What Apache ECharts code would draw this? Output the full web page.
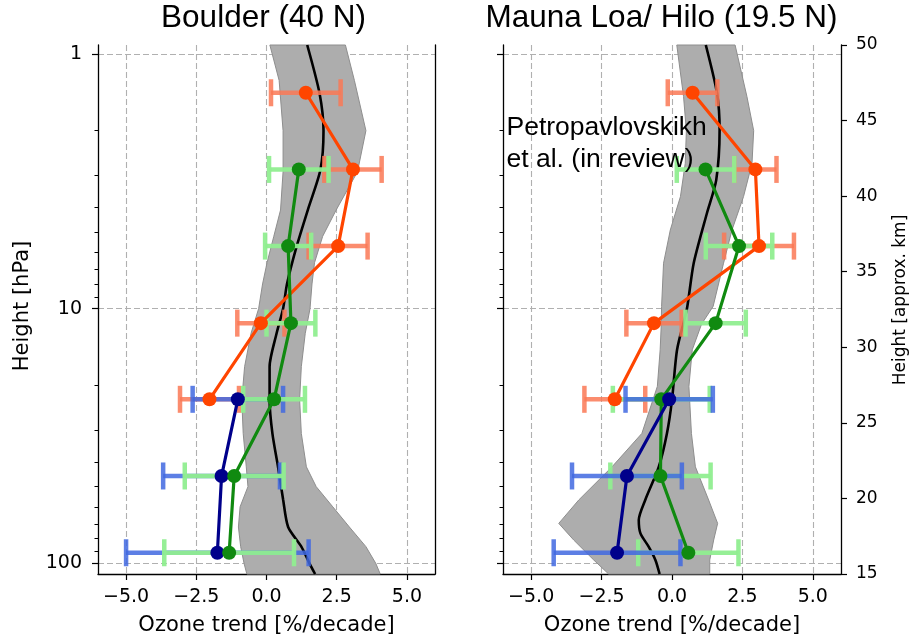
<!DOCTYPE html>
<html>
<head>
<meta charset="utf-8">
<script src="https://cdn.jsdelivr.net/npm/echarts@6/dist/echarts.min.js"></script>
<style>
  html, body { margin: 0; padding: 0; background: #fff; }
  #chart { width: 910px; height: 639px; }
</style>
</head>
<body>
<div id="chart"></div>
<script>
// ---- axis ticks ----
const trendTicks = [-5, -2.5, 0, 2.5, 5];
const pressureTicks = [1, 10, 100];
const pressureMinorTicks = [2, 3, 4, 5, 6, 7, 8, 9, 20, 30, 40, 50, 60, 70, 80, 90];
const pressureTop = 0.922;   // hPa at top of the panels
const pressureBottom = 110.15; // hPa at bottom of the panels
const kmMin = 15, kmMax = 50;

// ---- Umkehr layer centre pressures (hPa) ----
const layerP = [1.42, 2.84, 5.68, 11.4, 22.7, 45.4, 90.9];

// ---- Boulder (40 N) trends, %/decade, with 2-sigma ----
const bouOrange    = [1.40, 3.08, 2.55, -0.20, -2.03, null, null];
const bouOrangeErr = [1.24, 1.02, 1.05, 0.84, 1.05, null, null];
const bouGreen     = [null, 1.15, 0.77, 0.87, 0.27, -1.15, -1.33];
const bouGreenErr  = [null, 1.06, 0.82, 0.87, 1.10, 1.76, 2.31];
const bouBlue      = [null, null, null, null, -1.02, -1.60, -1.75];
const bouBlueErr   = [null, null, null, null, 1.61, 2.08, 3.25];

// model envelope and mean, Boulder
const bouBandP  = [0.922, 1.27, 2.0, 2.9, 4.1, 5.2, 6.6, 8.0, 10, 12.5, 16.9, 22.8, 30.9, 41.8, 50, 60, 72, 86, 100, 110.15];
const bouBandLo = [0.12, 0.45, 0.59, 0.59, 0.50, 0.26, 0.02, -0.14, -0.28, -0.55, -0.78, -0.88, -0.83, -0.72, -0.66, -0.94, -1.0, -0.92, -0.80, -0.70];
const bouBandHi = [2.81, 3.13, 3.54, 3.24, 2.48, 2.0, 1.71, 1.62, 1.55, 1.38, 1.24, 1.18, 1.24, 1.42, 1.77, 2.36, 2.95, 3.54, 3.89, 4.05];
const bouMeanP  = [0.922, 1.43, 2.0, 2.85, 4.1, 5.76, 8.0, 10, 12.5, 16.9, 22.8, 30.9, 41.8, 56, 72, 86, 100, 110.15];
const bouMeanX  = [1.45, 1.89, 2.03, 1.92, 1.47, 1.06, 0.73, 0.59, 0.36, 0.11, 0.11, 0.21, 0.41, 0.59, 0.77, 1.24, 1.53, 1.73];

// ---- Mauna Loa / Hilo (19.5 N) trends ----
const mloOrange    = [0.73, 2.96, 3.09, -0.64, -2.03, null, null];
const mloOrangeErr = [0.88, 0.75, 1.24, 0.98, 1.08, null, null];
const mloGreen     = [null, 1.19, 2.38, 1.55, -0.38, -0.41, 0.58];
const mloGreenErr  = [null, 1.02, 1.18, 1.07, 1.72, 1.78, 1.78];
const mloBlue      = [null, null, null, null, -0.10, -1.60, -1.95];
const mloBlueErr   = [null, null, null, null, 1.55, 1.95, 2.25];

// model envelope and mean, Mauna Loa
const mloBandP  = [0.922, 1.47, 2.0, 2.69, 3.63, 4.91, 6.63, 9.8, 11.5, 14.5, 20.2, 30.9, 41.8, 56.4, 69.7, 81, 97, 110.15];
const mloBandLo = [0.17, 0.41, 0.51, 0.47, 0.30, -0.06, -0.30, -0.37, -0.38, -0.42, -0.52, -1.07, -2.13, -3.31, -4.02, -3.49, -2.78, -2.25];
const mloBandHi = [2.24, 2.66, 2.90, 2.84, 2.54, 2.13, 1.83, 1.46, 1.05, 0.72, 0.60, 0.69, 0.83, 1.30, 1.62, 1.48, 1.34, 1.34];
const mloMeanP  = [0.922, 1.43, 1.99, 3.13, 4.22, 6.63, 10, 14.5, 22.8, 30.9, 41.8, 56.4, 67.6, 76.3, 86, 97, 110.15];
const mloMeanX  = [1.20, 1.60, 1.69, 1.57, 1.24, 0.77, 0.53, 0.18, 0.0, -0.18, -0.47, -0.95, -1.18, -1.12, -0.83, -0.59, -0.44];

// ---- styling ----
const TICK_FONT = 'DejaVu Sans';
const TEXT_FONT = '"Liberation Sans", Arial, Helvetica, sans-serif';
const colors = {
  orange: { line: '#ff4500', bar: 'rgba(250,120,85,0.85)' },
  green:  { line: '#108a10', bar: 'rgba(144,238,144,0.95)' },
  blue:   { line: '#00008b', bar: 'rgba(65,105,225,0.85)' }
};
const gridLine = { show: true, lineStyle: { color: '#b0b0b0', type: [6, 3], width: 1.1 } };

function fmtTrend(v) {
  return v.toFixed(1).replace('-', '\u2212');
}

function pointRows(vals, errs) {
  const rows = [];
  layerP.forEach((p, i) => {
    if (vals[i] !== null) rows.push([vals[i], p, errs[i]]);
  });
  return rows;
}

function errorBarRenderer(color) {
  return function (params, api) {
    const x = api.value(0), p = api.value(1), e = api.value(2);
    const a = api.coord([x - e, p]);
    const b = api.coord([x + e, p]);
    const h = 13.5;
    const style = { stroke: color, lineWidth: 4.5, fill: null };
    return {
      type: 'group',
      children: [
        { type: 'line', shape: { x1: a[0], y1: a[1], x2: b[0], y2: b[1] }, style },
        { type: 'line', shape: { x1: a[0], y1: a[1] - h, x2: a[0], y2: a[1] + h }, style },
        { type: 'line', shape: { x1: b[0], y1: b[1] - h, x2: b[0], y2: b[1] + h }, style }
      ]
    };
  };
}

function bandSeries(xi, yi, P, lo, hi) {
  const rows = P.map((p, i) => [lo[i], p, hi[i]]);
  return {
    type: 'custom', xAxisIndex: xi, yAxisIndex: yi, z: 1, silent: true,
    data: rows,
    encode: { x: [0, 2], y: 1 },
    renderItem: function (params, api) {
      if (params.dataIndex !== 0) return null;
      const left = P.map((p, i) => api.coord([lo[i], p]));
      const right = P.map((p, i) => api.coord([hi[i], p])).reverse();
      return {
        type: 'polygon',
        shape: { points: left.concat(right) },
        style: { fill: '#adadad', stroke: '#8e8e8e', lineWidth: 1 }
      };
    }
  };
}

function meanSeries(xi, yi, P, X) {
  return {
    type: 'line', xAxisIndex: xi, yAxisIndex: yi, z: 2, silent: true,
    data: P.map((p, i) => [X[i], p]),
    showSymbol: false, symbol: 'none', smooth: 0.25,
    lineStyle: { color: '#000', width: 2.6 }
  };
}

// error bars sit under every profile line; barZ / lineZ set the stacking
function errorSeries(xi, yi, vals, errs, c, barZ) {
  return {
    type: 'custom', xAxisIndex: xi, yAxisIndex: yi, z: barZ, silent: true,
    data: pointRows(vals, errs), encode: { x: 0, y: 1 },
    renderItem: errorBarRenderer(c.bar)
  };
}

function profileSeries(xi, yi, vals, errs, c, lineZ) {
  return {
    type: 'line', xAxisIndex: xi, yAxisIndex: yi, z: lineZ, silent: true,
    data: pointRows(vals, errs).map(r => [r[0], r[1]]),
    symbol: 'circle', symbolSize: 14, showSymbol: true,
    itemStyle: { color: c.line },
    lineStyle: { color: c.line, width: 3.2 }
  };
}

function trendAxis(gi) {
  return {
    type: 'value', gridIndex: gi, min: -6, max: 6,
    axisLine: { onZero: false, lineStyle: { color: '#000', width: 1.3 } },
    axisTick: { customValues: trendTicks, length: 6, lineStyle: { color: '#000', width: 1.2 } },
    axisLabel: {
      customValues: trendTicks, formatter: fmtTrend, margin: 14,
      fontFamily: TICK_FONT, fontSize: 19, color: '#000'
    },
    splitLine: gridLine
  };
}

function pressureAxis(gi, showLabels) {
  return {
    type: 'log', logBase: 10, gridIndex: gi, position: 'left', inverse: true,
    min: pressureTop, max: pressureBottom,
    axisLine: { show: true, onZero: false, lineStyle: { color: '#000', width: 1.3 } },
    axisTick: { customValues: pressureTicks, length: 6, lineStyle: { color: '#000', width: 1.2 } },
    axisLabel: {
      show: showLabels, customValues: pressureTicks, margin: 16,
      fontFamily: TICK_FONT, fontSize: 19, color: '#000',
      formatter: v => String(Math.round(v))
    },
    splitLine: gridLine
  };
}

function pressureMinorAxis(gi) {
  return {
    type: 'log', logBase: 10, gridIndex: gi, position: 'left', inverse: true,
    min: pressureTop, max: pressureBottom,
    axisLine: { show: false, onZero: false },
    axisTick: { customValues: pressureMinorTicks, length: 3.5, lineStyle: { color: '#000', width: 1 } },
    axisLabel: { show: false },
    splitLine: { show: false }
  };
}

const chart = echarts.init(document.getElementById('chart'), null, { renderer: 'canvas' });

const option = {
  animation: false,
  backgroundColor: '#fff',
  grid: [
    { left: 98, top: 45, width: 337, height: 529 },
    { left: 503, top: 45, width: 338, height: 529 }
  ],
  xAxis: [trendAxis(0), trendAxis(1)],
  yAxis: [
    pressureAxis(0, true),
    pressureMinorAxis(0),
    {
      type: 'value', gridIndex: 0, position: 'right', min: 0, max: 1,
      axisLine: { show: true, onZero: false, lineStyle: { color: '#000', width: 1.3 } },
      axisTick: { show: false }, axisLabel: { show: false }, splitLine: { show: false }
    },
    pressureAxis(1, false),
    pressureMinorAxis(1),
    {
      type: 'value', gridIndex: 1, position: 'right', min: kmMin, max: kmMax, interval: 5,
      axisLine: { show: true, onZero: false, lineStyle: { color: '#000', width: 1.3 } },
      axisTick: { show: true, length: 6, lineStyle: { color: '#000', width: 1.2 } },
      axisLabel: { margin: 15, fontFamily: TICK_FONT, fontSize: 17, color: '#000' },
      splitLine: { show: false }
    }
  ],
  series: [
    // Boulder
    bandSeries(0, 0, bouBandP, bouBandLo, bouBandHi),
    meanSeries(0, 0, bouMeanP, bouMeanX),
    errorSeries(0, 0, bouOrange, bouOrangeErr, colors.orange, 3),
    errorSeries(0, 0, bouBlue, bouBlueErr, colors.blue, 4),
    errorSeries(0, 0, bouGreen, bouGreenErr, colors.green, 5),
    profileSeries(0, 0, bouOrange, bouOrangeErr, colors.orange, 6),
    profileSeries(0, 0, bouBlue, bouBlueErr, colors.blue, 7),
    profileSeries(0, 0, bouGreen, bouGreenErr, colors.green, 8),

    // Mauna Loa / Hilo
    bandSeries(1, 3, mloBandP, mloBandLo, mloBandHi),
    meanSeries(1, 3, mloMeanP, mloMeanX),
    errorSeries(1, 3, mloOrange, mloOrangeErr, colors.orange, 3),
    errorSeries(1, 3, mloGreen, mloGreenErr, colors.green, 4),
    errorSeries(1, 3, mloBlue, mloBlueErr, colors.blue, 5),
    profileSeries(1, 3, mloOrange, mloOrangeErr, colors.orange, 6),
    profileSeries(1, 3, mloGreen, mloGreenErr, colors.green, 7),
    profileSeries(1, 3, mloBlue, mloBlueErr, colors.blue, 8)
  ],
  graphic: [
    { type: 'text', x: 263.5, y: 18.5, z: 20,
      style: { text: 'Boulder (40 N)', font: '31.5px ' + TEXT_FONT, fill: '#000', align: 'center', verticalAlign: 'middle' } },
    { type: 'text', x: 661.5, y: 18.5, z: 20,
      style: { text: 'Mauna Loa/ Hilo (19.5 N)', font: '31.5px ' + TEXT_FONT, fill: '#000', align: 'center', verticalAlign: 'middle' } },
    { type: 'text', x: 506.5, y: 144, z: 20,
      style: { text: 'Petropavlovskikh\net al. (in review)', font: '26.5px ' + TEXT_FONT, lineHeight: 31.7, fill: '#000', align: 'left', verticalAlign: 'middle' } },
    { type: 'text', x: 266.5, y: 626, z: 20,
      style: { text: 'Ozone trend [%/decade]', font: '21px "DejaVu Sans"', fill: '#000', align: 'center', verticalAlign: 'middle' } },
    { type: 'text', x: 672, y: 626, z: 20,
      style: { text: 'Ozone trend [%/decade]', font: '21px "DejaVu Sans"', fill: '#000', align: 'center', verticalAlign: 'middle' } },
    { type: 'text', x: 23, y: 306, z: 20, rotation: Math.PI / 2,
      style: { text: 'Height [hPa]', font: '21px "DejaVu Sans"', fill: '#000', align: 'center', verticalAlign: 'middle' } },
    { type: 'text', x: 901, y: 300, z: 20, rotation: Math.PI / 2,
      style: { text: 'Height [approx. km]', font: '17px "DejaVu Sans"', fill: '#000', align: 'center', verticalAlign: 'middle' } }
  ]
};

chart.setOption(option);
</script>
</body>
</html>
